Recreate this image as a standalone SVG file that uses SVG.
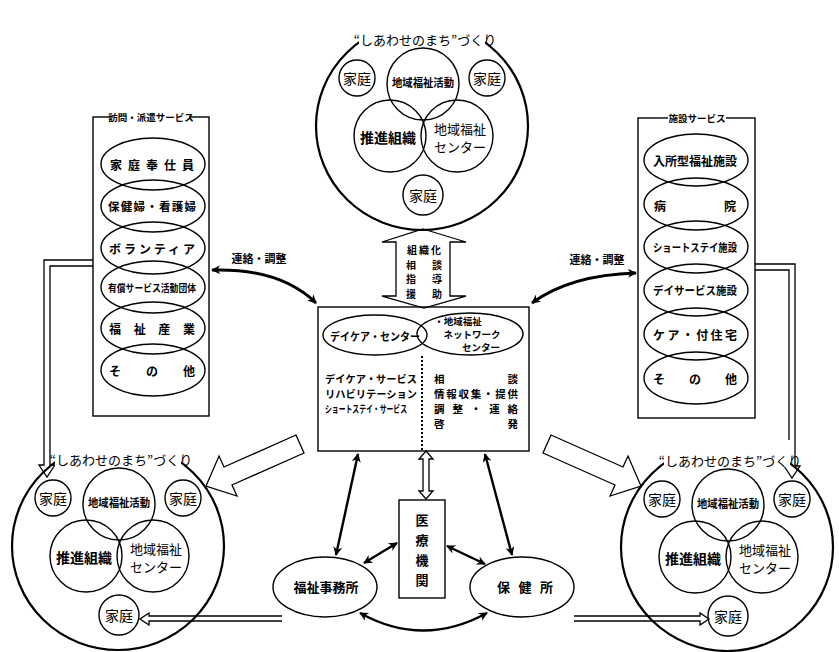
<svg xmlns="http://www.w3.org/2000/svg" width="839" height="652" viewBox="0 0 839 652">
<defs>
<style>
.ln{fill:none;stroke:#000;stroke-width:2.2}
.th{fill:none;stroke:#000;stroke-width:1.4}
.t{font-family:"Noto Sans CJK JP","Noto Sans",sans-serif;fill:#000;text-anchor:middle;dominant-baseline:central}
.s{text-anchor:start}
.b{font-weight:bold}
.hol{fill:#fff;stroke:#000;stroke-width:1.3;stroke-linejoin:miter}
.con{fill:none;stroke:#000;stroke-width:3;marker-start:url(#ah);marker-end:url(#ah)}
.con2{fill:none;stroke:#000;stroke-width:2.4;marker-start:url(#ah);marker-end:url(#ah)}
</style>
<marker id="ah" viewBox="0 0 10 10" refX="9" refY="5" markerWidth="13" markerHeight="9" markerUnits="userSpaceOnUse" orient="auto-start-reverse">
<path d="M0,0 L10,5 L0,10 L3,5 Z" fill="#000"/>
</marker>
<g id="town">
<ellipse cx="0" cy="0" rx="106" ry="104" class="ln"/>
<rect x="-63" y="-107" width="126" height="27" fill="#fff"/>
<text x="3" y="-87" class="t" font-size="13">“しあわせのまち”づくり</text>
<circle cx="-65" cy="-48" r="18" class="th"/>
<text x="-65" y="-48" class="t" font-size="14">家庭</text>
<circle cx="65" cy="-48" r="18" class="th"/>
<text x="65" y="-48" class="t" font-size="14">家庭</text>
<circle cx="1" cy="-42" r="36" class="th"/>
<text x="1" y="-44" class="t b" font-size="11" textLength="62" lengthAdjust="spacingAndGlyphs">地域福祉活動</text>
<circle cx="-32" cy="10" r="36" class="th"/>
<text x="-34" y="11" class="t b" font-size="14">推進組織</text>
<circle cx="35" cy="10" r="36" class="th"/>
<text x="38" y="2" class="t" font-size="13">地域福祉</text>
<text x="38" y="20" class="t" font-size="13">センター</text>
<circle cx="1" cy="69" r="20" class="th"/>
<text x="1" y="69" class="t" font-size="14">家庭</text>
</g>
</defs>
<rect width="839" height="652" fill="#fff"/>

<g id="connectors">
<path class="hol" d="M93 260 H44 V465 H39 L47 477 L55 465 H50 V266 H93"/>
<path class="hol" d="M755 264 H795 V466 H800 L792 478 L784 466 H789 V270 H755"/>
<path class="hol" d="M282 616 H149 V613 L140 619 L149 625 V621 H282"/>
<path class="hol" d="M574 616 H700 V613 L709 619 L700 625 V621 H574"/>
<path class="hol" d="M423 229 L466 242 H450 V296 H466 L424 308 L382 296 H396 V242 H382 Z"/>
<path class="hol" d="M426 451 L433 459 H429 V491 H433 L426 499 L419 491 H423 V459 H419 Z"/>
<polygon class="hol" points="296,435 224,467 219,456 206,486 237,496 232,485 304,453"/>
<polygon class="hol" points="551,435 623,467 628,456 641,486 610,496 615,485 543,453"/>
<path class="con" d="M212 270 Q280 268 316 303"/>
<path class="con" d="M636 273 Q570 275 532 303"/>
<path class="con2" d="M358 454 L336 555"/>
<path class="con2" d="M485 454 L512 555"/>
<path class="con2" d="M397 543 L364 563"/>
<path class="con2" d="M447 546 L485 564"/>
<path class="con2" d="M360 613 Q423 648 487 613"/>
<text x="259" y="258" class="t b" font-size="11">連絡・調整</text>
<text x="597" y="259" class="t b" font-size="11">連絡・調整</text>
</g>

<g id="town-top" transform="translate(422,126)"><use href="#town"/></g>
<g id="town-left" transform="translate(118,546)"><use href="#town"/></g>
<g id="town-right" transform="translate(727,547)"><use href="#town"/></g>

<g id="top-arrow-text">
<text class="t b" font-size="10"><tspan x="424" y="249" textLength="34" lengthAdjust="spacing">組織化</tspan><tspan x="424" y="263.5" textLength="36" lengthAdjust="spacing">相談</tspan><tspan x="424" y="278" textLength="36" lengthAdjust="spacing">指導</tspan><tspan x="424" y="292.5" textLength="36" lengthAdjust="spacing">援助</tspan></text>
</g>

<g id="visit-services">
<rect x="93" y="117" width="116" height="299" class="th"/>
<rect x="113" y="111" width="76" height="12" fill="#fff"/>
<text x="151" y="117" class="t b" font-size="9.5">訪問・派遣サービス</text>
<ellipse cx="153" cy="164" rx="52" ry="26" class="th"/>
<ellipse cx="153" cy="206" rx="52" ry="26" class="th"/>
<ellipse cx="153" cy="248" rx="52" ry="26" class="th"/>
<ellipse cx="153" cy="287" rx="52" ry="26" class="th"/>
<ellipse cx="153" cy="328" rx="52" ry="26" class="th"/>
<ellipse cx="153" cy="370" rx="52" ry="26" class="th"/>
<text x="152" y="164" class="t b" font-size="12" textLength="84" lengthAdjust="spacing">家庭奉仕員</text>
<text x="152" y="206" class="t b" font-size="11.5" textLength="88" lengthAdjust="spacing">保健婦・看護婦</text>
<text x="152" y="248" class="t b" font-size="12" textLength="86" lengthAdjust="spacing">ボランティア</text>
<text x="152" y="287" class="t b" font-size="10" textLength="88" lengthAdjust="spacingAndGlyphs">有償サービス活動団体</text>
<text x="152" y="328" class="t b" font-size="12" textLength="86" lengthAdjust="spacing">福祉産業</text>
<text x="152" y="370" class="t b" font-size="12" textLength="86" lengthAdjust="spacing">その他</text>
</g>

<g id="facility-services">
<rect x="638" y="118" width="117" height="300" class="th"/>
<rect x="668" y="112" width="58" height="12" fill="#fff"/>
<text x="697" y="118" class="t b" font-size="9.5">施設サービス</text>
<ellipse cx="696" cy="160" rx="52" ry="26" class="th"/>
<ellipse cx="696" cy="204" rx="52" ry="26" class="th"/>
<ellipse cx="696" cy="247" rx="52" ry="26" class="th"/>
<ellipse cx="696" cy="290" rx="52" ry="26" class="th"/>
<ellipse cx="696" cy="334" rx="52" ry="26" class="th"/>
<ellipse cx="696" cy="378" rx="52" ry="26" class="th"/>
<text x="695" y="160" class="t b" font-size="12" textLength="84" lengthAdjust="spacing">入所型福祉施設</text>
<text x="695" y="205" class="t b" font-size="12" textLength="82" lengthAdjust="spacing">病院</text>
<text x="695" y="247" class="t b" font-size="11" textLength="84" lengthAdjust="spacingAndGlyphs">ショートステイ施設</text>
<text x="695" y="290" class="t b" font-size="11.5" textLength="84" lengthAdjust="spacingAndGlyphs">デイサービス施設</text>
<text x="695" y="334" class="t b" font-size="12" textLength="84" lengthAdjust="spacing">ケア・付住宅</text>
<text x="695" y="378" class="t b" font-size="12" textLength="84" lengthAdjust="spacing">その他</text>
</g>

<g id="center">
<rect x="318" y="307" width="211" height="144" class="th" stroke-width="1.6"/>
<ellipse cx="375" cy="335" rx="52" ry="20" class="th"/>
<ellipse cx="470" cy="334" rx="53" ry="21" class="th"/>
<line x1="422" y1="356" x2="422" y2="451" stroke="#000" stroke-width="2" stroke-dasharray="2,2"/>
<text x="375" y="336" class="t b" font-size="11" textLength="90" lengthAdjust="spacingAndGlyphs">デイケア・センター</text>
<text class="t b" font-size="9.5"><tspan x="458" y="321">・地域福祉</tspan><tspan x="472" y="334">ネットワーク</tspan><tspan x="481" y="347">センター</tspan></text>
<text x="325" y="378" class="t s b" font-size="10.5" textLength="92" lengthAdjust="spacingAndGlyphs">デイケア・サービス</text>
<text x="325" y="393" class="t s b" font-size="10.5" textLength="92" lengthAdjust="spacingAndGlyphs">リハビリテーション</text>
<text x="325" y="408" class="t s b" font-size="10" textLength="82" lengthAdjust="spacingAndGlyphs">ショートステイ・サービス</text>
<text class="t b" font-size="10.5"><tspan x="476" y="378" textLength="84" lengthAdjust="spacing">相談</tspan><tspan x="476" y="393" textLength="84" lengthAdjust="spacing">情報収集・提供</tspan><tspan x="476" y="408" textLength="84" lengthAdjust="spacing">調整・連絡</tspan><tspan x="476" y="423" textLength="84" lengthAdjust="spacing">啓発</tspan></text>
</g>

<g id="medical">
<rect x="399" y="500" width="46" height="98" class="th" stroke-width="1.6"/>
<text x="422" y="519" class="t b" font-size="13">医</text>
<text x="422" y="539" class="t b" font-size="13">療</text>
<text x="422" y="559" class="t b" font-size="13">機</text>
<text x="422" y="579" class="t b" font-size="13">関</text>
</g>

<g id="welfare-office">
<ellipse cx="325" cy="587" rx="52" ry="30" class="th" stroke-width="1.6"/>
<text x="326" y="586" class="t b" font-size="13">福祉事務所</text>
</g>

<g id="health-center">
<ellipse cx="522" cy="587" rx="52" ry="30" class="th" stroke-width="1.6"/>
<text x="525" y="586" class="t b" font-size="13" textLength="56" lengthAdjust="spacing">保健所</text>
</g>
</svg>
